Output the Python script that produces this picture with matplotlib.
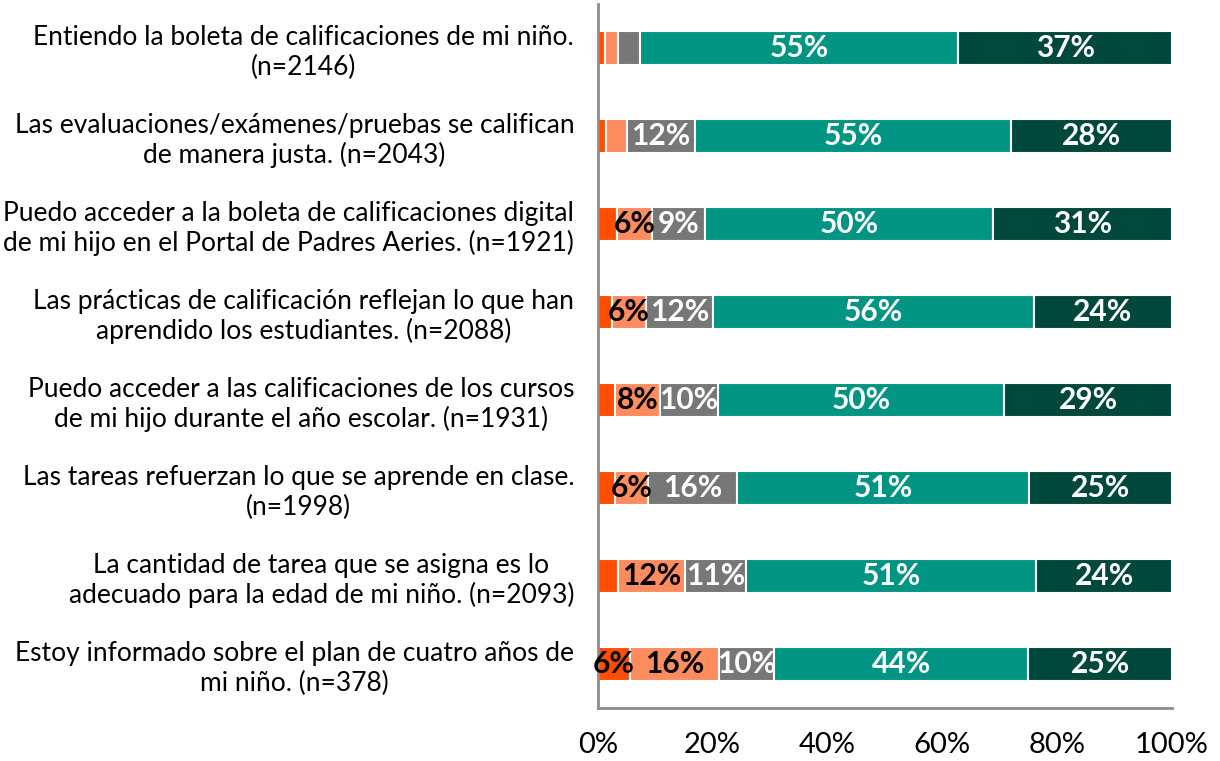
import numpy as np
import matplotlib.pyplot as plt
from matplotlib.ticker import FuncFormatter

plt.rcParams['font.family'] = ['Lato', 'DejaVu Sans']

# preguntas (de arriba hacia abajo)
preguntas = [
    'Entiendo la boleta de calificaciones de mi niño.\n(n=2146)',
    'Las evaluaciones/exámenes/pruebas se califican\nde manera justa. (n=2043)',
    'Puedo acceder a la boleta de calificaciones digital\nde mi hijo en el Portal de Padres Aeries. (n=1921)',
    'Las prácticas de calificación reflejan lo que han\naprendido los estudiantes. (n=2088)',
    'Puedo acceder a las calificaciones de los cursos\nde mi hijo durante el año escolar. (n=1931)',
    'Las tareas refuerzan lo que se aprende en clase.\n(n=1998)',
    'La cantidad de tarea que se asigna es lo\nadecuado para la edad de mi niño. (n=2093)',
    'Estoy informado sobre el plan de cuatro años de\nmi niño. (n=378)',
]

# pourcentages
muy_desacuerdo = [1.2, 1.4, 3.3, 2.4, 3.0, 3.0, 3.5, 5.6]
desacuerdo     = [2.4, 3.6, 6.2, 6.0, 7.8, 5.7, 11.7, 15.6]
neutral        = [3.8, 12.0, 9.2, 11.6, 10.2, 15.6, 10.6, 9.5]
de_acuerdo     = [55.4, 55.0, 50.2, 56.0, 49.8, 50.8, 50.6, 44.3]
muy_de_acuerdo = [37.2, 28.0, 31.1, 24.0, 29.2, 24.9, 23.6, 25.0]

series = [muy_desacuerdo, desacuerdo, neutral, de_acuerdo, muy_de_acuerdo]
colores = ['#ff4e00', '#ff8c5f', '#777777', '#009483', '#00483c']
col_texte = ['black', 'black', 'white', 'white', 'white']


def main():
    fig = plt.figure(figsize=(12.2, 7.61), dpi=100)
    ax = fig.add_axes([0.490, 0.0696, 0.4705, 0.9251])

    y = np.arange(len(preguntas))
    left = np.zeros(len(preguntas))
    for vals, c, tc in zip(series, colores, col_texte):
        vals = np.array(vals)
        ax.barh(y, vals, left=left, height=0.38, color=c,
                edgecolor='white', linewidth=1.5)
        for yi, l, v in zip(y, left, vals):
            if round(v) >= 5:
                ax.text(l + v / 2, yi, '%d%%' % round(v), ha='center', va='center',
                        color=tc, fontsize=21.5, fontweight='bold')
        left += vals

    ax.set_ylim(len(preguntas) - 0.5, -0.5)
    ax.set_xlim(0, 100)
    ax.set_yticks(y)
    ax.set_yticklabels(preguntas, fontsize=19, ha='right', multialignment='center',
                       linespacing=1.2)
    ax.tick_params(axis='y', length=0, pad=17)
    ax.set_xticks(np.arange(0, 101, 20))
    ax.xaxis.set_major_formatter(FuncFormatter(lambda v, p: '%d%%' % v))
    ax.tick_params(axis='x', length=0, labelsize=21, pad=17)

    for s in ['top', 'right']:
        ax.spines[s].set_visible(False)
    for s in ['left', 'bottom']:
        ax.spines[s].set_color('#8c8c8c')
        ax.spines[s].set_linewidth(2)

    fig.savefig('out.png', dpi=100)


if __name__ == '__main__':
    main()
